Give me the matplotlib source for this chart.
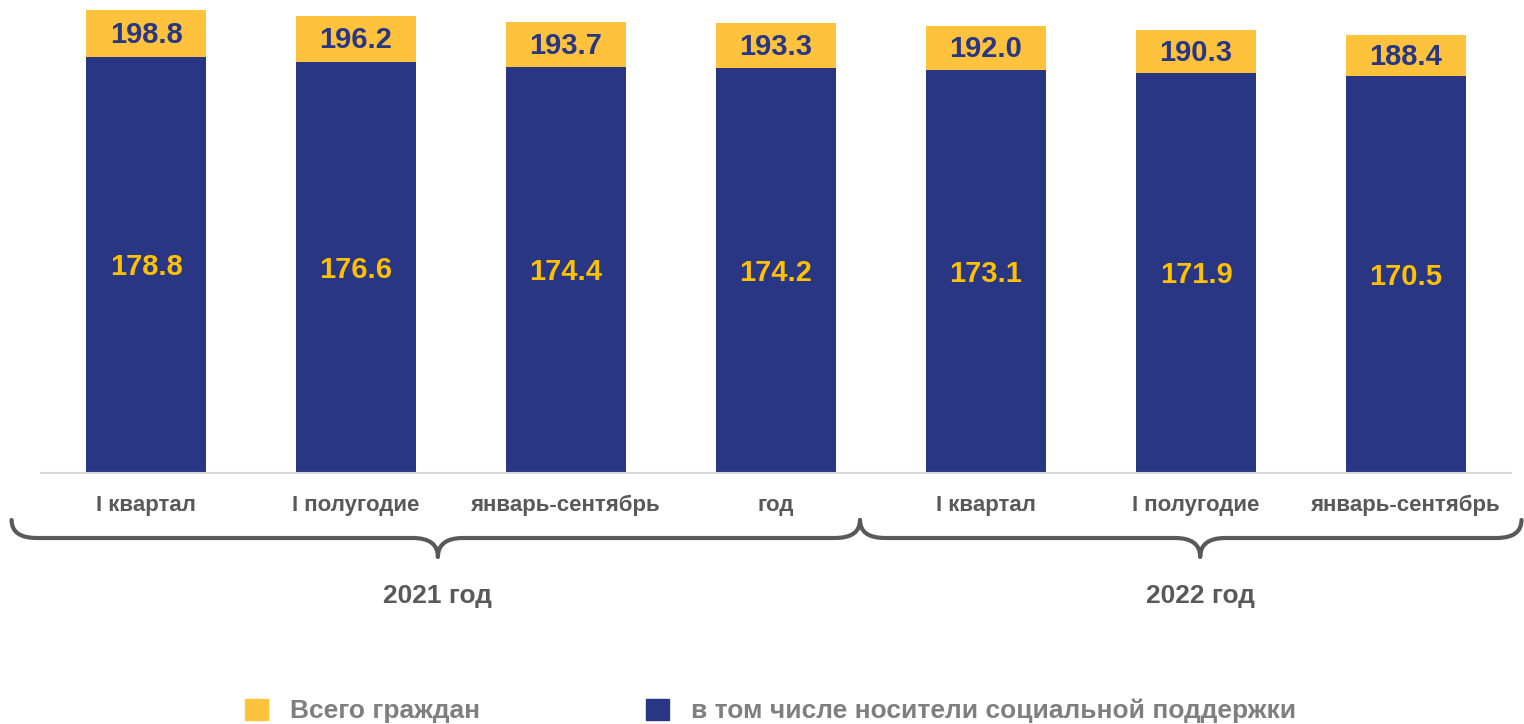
import matplotlib
matplotlib.use("Agg")
import matplotlib.pyplot as plt
import numpy as np
from matplotlib.path import Path
from matplotlib.patches import PathPatch, Patch
from matplotlib.transforms import blended_transform_factory

categories = ["I квартал", "I полугодие", "январь-сентябрь", "год",
              "I квартал", "I полугодие", "январь-сентябрь"]
total = [198.8, 196.2, 193.7, 193.3, 192.0, 190.3, 188.4]
support = [178.8, 176.6, 174.4, 174.2, 173.1, 171.9, 170.5]
years = ["2021 год", "2022 год"]

YELLOW = "#FFC23D"
LABEL_YELLOW = "#FFC000"
BLUE = "#283683"
GRAY = "#595959"

plt.rcParams['font.family'] = ['Liberation Sans', 'DejaVu Sans']

W, H = 1524, 724
fig = plt.figure(figsize=(W / 100, H / 100), dpi=100)
ax = fig.add_axes([41 / W, 1 - 473 / H, (1511 - 41) / W, 473 / H])

x = np.arange(len(categories))
tot = np.array(total)
sup = np.array(support)
rest = tot - sup

ax.bar(x, sup, width=0.571, color=BLUE, zorder=2)
ax.bar(x, rest, bottom=sup, width=0.571, color=YELLOW, zorder=2)

for xi, s, t in zip(x, sup, tot):
    ax.text(xi, s / 2 - 1, f"{s:.1f}", ha="center", va="center",
            color=LABEL_YELLOW, fontsize=21, fontweight="bold")
    ax.text(xi, (s + t) / 2 - 0.5, f"{t:.1f}", ha="center", va="center",
            color=BLUE, fontsize=21, fontweight="bold")

ax.set_xlim(-0.5, len(categories) - 0.5)
ax.set_ylim(0, 473 / 2.327)
for sp in ["top", "right", "left"]:
    ax.spines[sp].set_visible(False)
ax.spines["bottom"].set_color("#D9D9D9")
ax.spines["bottom"].set_linewidth(1.5)
ax.set_yticks([])
ax.set_xticks(x)
ax.set_xticklabels(categories, fontsize=16, fontweight="bold", color=GRAY)
ax.tick_params(axis="x", length=0, pad=16)

# braces
trans = blended_transform_factory(ax.transData, fig.transFigure)
ytop = 1 - 520 / H
ymid = 1 - 538 / H
ybot = 1 - 557 / H
r = 0.12


def brace(x0, xt, x1):
    verts = [(x0, ytop), (x0, ymid), (x0 + r, ymid),
             (xt - r, ymid), (xt, ymid), (xt, ybot),
             (xt, ymid), (xt + r, ymid),
             (x1 - r, ymid), (x1, ymid), (x1, ytop)]
    codes = [Path.MOVETO, Path.CURVE3, Path.CURVE3,
             Path.LINETO, Path.CURVE3, Path.CURVE3,
             Path.CURVE3, Path.CURVE3,
             Path.LINETO, Path.CURVE3, Path.CURVE3]
    p = PathPatch(Path(verts, codes), transform=trans, fill=False,
                  edgecolor=GRAY, linewidth=3.0, clip_on=False,
                  capstyle="round", joinstyle="round")
    fig.add_artist(p)


braces = [(-0.64, 1.39, 3.40), (3.40, 5.02, 6.55)]
for (x0, xt, x1), label in zip(braces, years):
    brace(x0, xt, x1)
    ax.text(xt, 1 - 596 / H, label, transform=trans, ha="center", va="center",
            fontsize=19, fontweight="bold", color=GRAY)

handles = [Patch(color=YELLOW), Patch(color=BLUE)]
labels = ["Всего граждан", "в том числе носители социальной поддержки"]
fig.legend(handles, labels, loc="center left",
           bbox_to_anchor=(245 / W, 1 - 711 / H), ncol=2, frameon=False,
           prop={"size": 19, "weight": "bold"}, labelcolor="#7F7F7F",
           handlelength=0.87, handleheight=0.87, handletextpad=0.83,
           columnspacing=6.3, borderpad=0, borderaxespad=0)

fig.savefig("out.png", dpi=100)
